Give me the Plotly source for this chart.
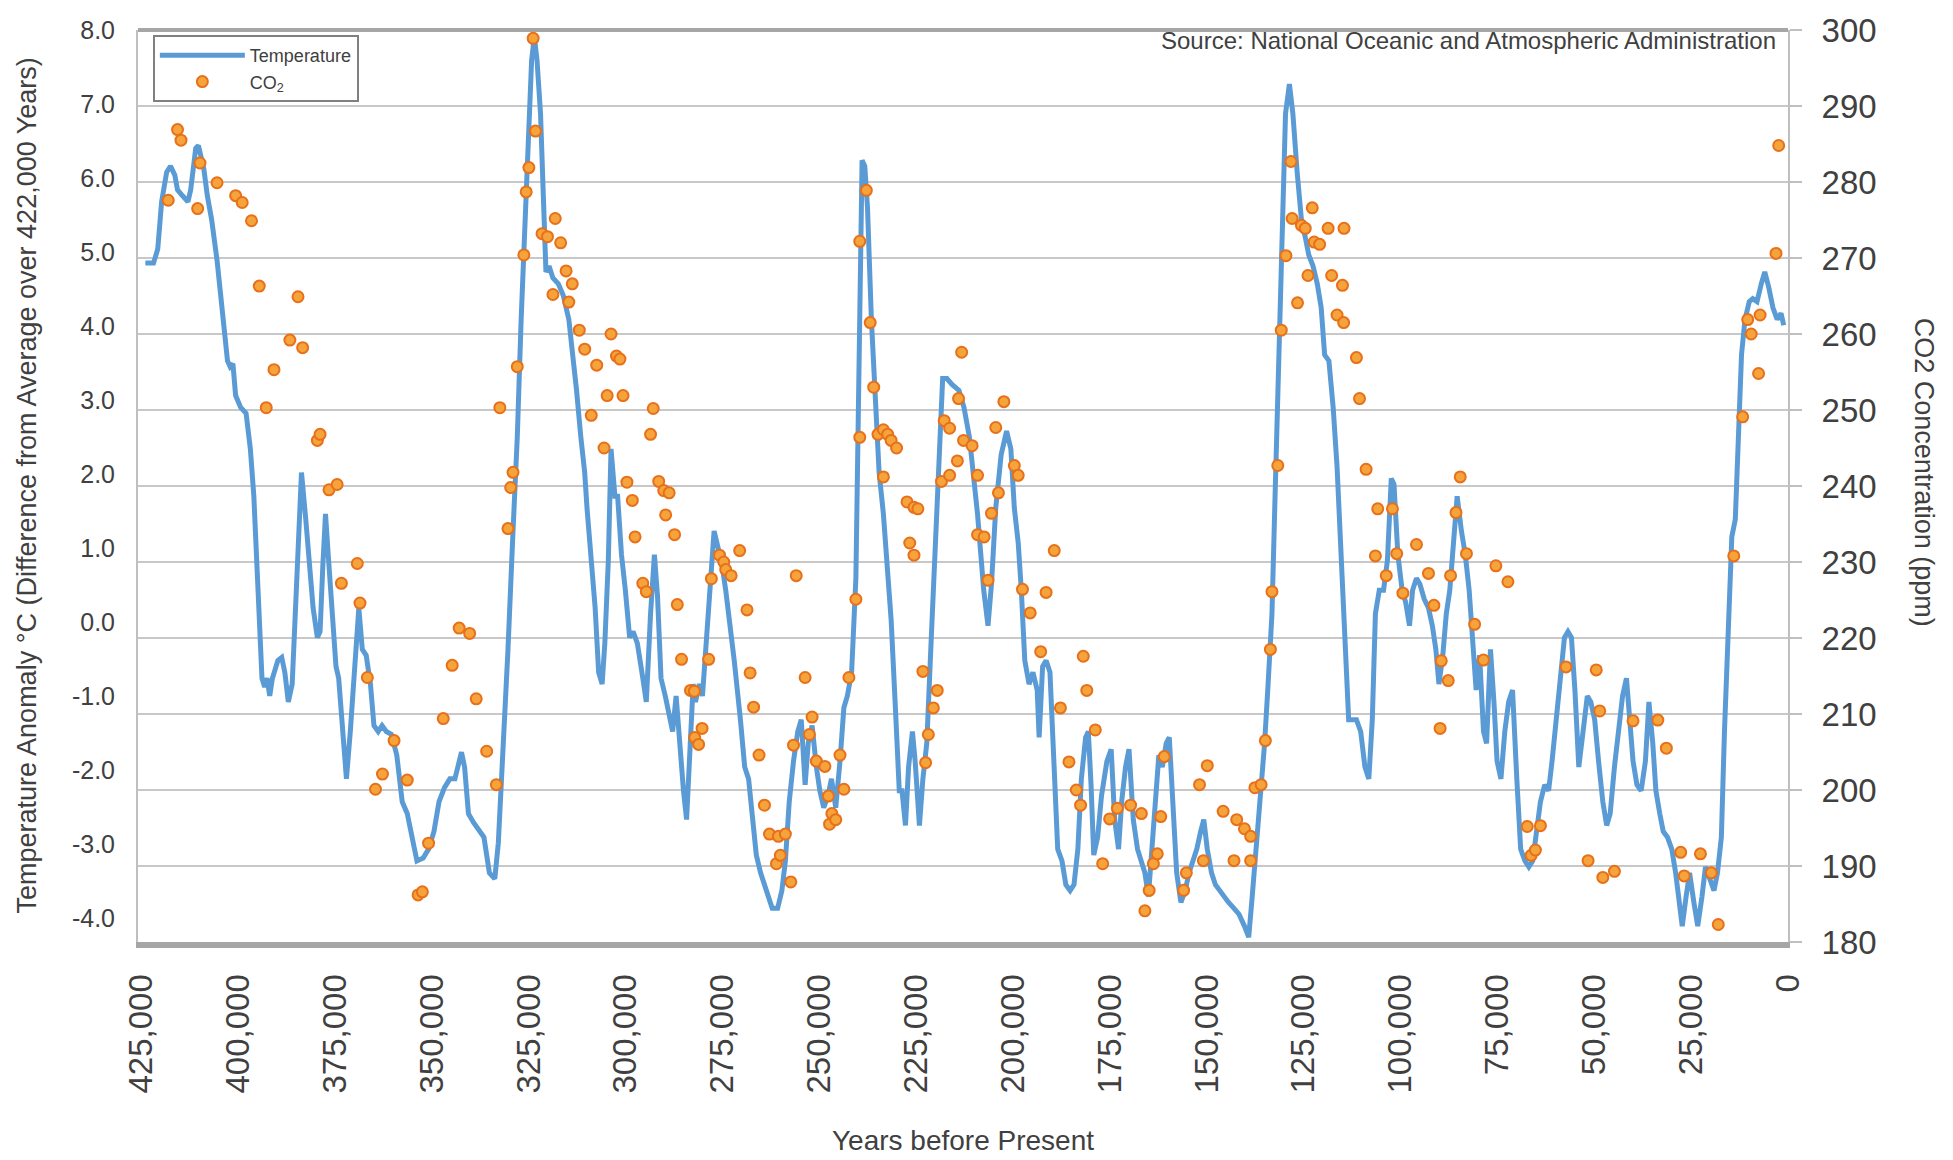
import plotly.graph_objects as go

# Temperature anomaly (°C) vs years before present
temperature_points = [
    (424000, 4.85), (421900, 4.85), (420800, 5.04), (419800, 5.68), (418500, 6.08), (417500, 6.16),
    (416400, 6.04), (415700, 5.84), (414400, 5.76), (413000, 5.68), (412300, 5.84), (411000, 6.40),
    (410300, 6.44), (409600, 6.28), (408900, 6.12), (408000, 5.76), (406900, 5.44), (405500, 4.89),
    (404100, 4.25), (402800, 3.53), (402100, 3.45), (401400, 3.49), (400700, 3.06), (399400, 2.90),
    (398000, 2.82), (396900, 2.34), (396000, 1.70), (395300, 0.91), (394600, 0.11), (393900, -0.76),
    (393200, -0.88), (392600, -0.76), (391900, -1.00), (391200, -0.76), (389800, -0.52), (388800, -0.48),
    (388000, -0.68), (387100, -1.08), (386100, -0.84), (385000, 0.51), (383700, 2.02), (382600, 1.39),
    (381600, 0.75), (380700, 0.19), (379600, -0.21), (378900, -0.13), (378200, 0.75), (377500, 1.46),
    (376800, 0.91), (375900, 0.19), (374800, -0.60), (374100, -0.76), (373000, -1.48), (372100, -2.12),
    (371100, -1.48), (370000, -0.68), (368900, 0.19), (368000, -0.37), (367000, -0.45), (365900, -0.84),
    (365000, -1.40), (363900, -1.48), (362900, -1.40), (361800, -1.48), (360500, -1.52), (359100, -1.80),
    (357700, -2.43), (356400, -2.59), (355000, -2.91), (353900, -3.23), (352300, -3.19), (350900, -3.07),
    (349500, -2.83), (348200, -2.43), (346800, -2.24), (345400, -2.12), (344100, -2.12), (343400, -1.96),
    (342400, -1.76), (341600, -1.96), (340600, -2.59), (339300, -2.71), (337900, -2.83), (336600, -2.91),
    (335200, -3.39), (333800, -3.47), (332900, -2.99), (331800, -1.88), (330400, -0.37), (329100, 1.23),
    (328000, 2.50), (327000, 4.09), (325700, 5.76), (325000, 6.87), (324300, 7.59), (323600, 7.91),
    (322900, 7.59), (322000, 6.87), (321100, 5.68), (320600, 4.73), (319800, 4.81), (318800, 4.65),
    (317400, 4.57), (316100, 4.41), (314700, 4.09), (313800, 3.69), (312700, 3.13), (311600, 2.50),
    (310600, 2.02), (310000, 1.54), (308900, 0.91), (307900, 0.19), (307000, -0.68), (306100, -0.84),
    (305400, -0.29), (304500, 0.83), (303800, 2.34), (302800, 1.70), (302100, 1.70), (301100, 0.91),
    (300100, 0.43), (299000, -0.21), (298100, -0.13), (297000, -0.29), (295600, -0.76), (294700, -1.08),
    (293600, 0.11), (292600, 0.91), (291800, 0.35), (290900, -0.76), (289800, -1.00), (288800, -1.24),
    (287900, -1.48), (287000, -1.00), (286100, -1.64), (285100, -2.28), (284300, -2.67), (283300, -1.48),
    (282600, -0.84), (282000, -1.08), (281000, -0.84), (280200, -1.00), (279200, -0.21), (278300, 0.59),
    (277200, 1.23), (276100, 0.99), (275100, 0.75), (274200, 0.43), (273400, 0.11), (272000, -0.52),
    (270400, -1.32), (269300, -1.96), (268300, -2.12), (267400, -2.67), (266300, -3.15), (265200, -3.39),
    (264200, -3.55), (263300, -3.71), (262200, -3.87), (260800, -3.87), (259700, -3.63), (258800, -3.23),
    (257800, -2.43), (256700, -1.88), (255600, -1.48), (254700, -1.32), (253700, -2.20), (252900, -1.64),
    (251900, -1.40), (250800, -1.96), (249900, -2.28), (248900, -2.51), (247800, -2.35), (246900, -2.12),
    (245800, -2.51), (244700, -1.88), (243700, -1.16), (242800, -1.00), (241700, -0.68), (240600, 0.59),
    (239600, 4.09), (239000, 6.24), (238300, 6.16), (237600, 5.60), (236600, 4.09), (235600, 2.90),
    (234600, 2.02), (233500, 1.46), (232400, 0.75), (231500, 0.03), (230400, -1.16), (229400, -2.28),
    (228700, -2.28), (227800, -2.75), (227000, -1.96), (226000, -1.48), (225300, -1.88), (224200, -2.75),
    (223300, -2.12), (222300, -1.64), (221200, -0.29), (220100, 1.07), (219200, 2.02), (218200, 3.29),
    (217100, 3.29), (215800, 3.21), (214000, 3.13), (212700, 2.90), (211300, 2.50), (210200, 2.02),
    (209200, 1.46), (208600, 1.07), (207600, 0.43), (206500, -0.05), (205600, 0.51), (204500, 1.54),
    (203100, 2.26), (201700, 2.58), (200600, 2.34), (199700, 1.54), (198700, 1.07), (197900, 0.43),
    (197000, -0.52), (195900, -0.84), (194900, -0.68), (193800, -0.92), (193300, -1.56), (192400, -0.60),
    (191500, -0.52), (190500, -0.68), (189400, -1.88), (188500, -3.07), (187400, -3.23), (186400, -3.55),
    (185300, -3.63), (184300, -3.55), (183300, -3.07), (182400, -2.12), (181300, -1.56), (180600, -1.48),
    (179900, -2.20), (179200, -3.15), (178200, -2.91), (177200, -2.35), (175800, -1.88), (174700, -1.72),
    (173800, -2.67), (172800, -3.07), (172000, -2.43), (171000, -1.96), (170100, -1.72), (169000, -2.67),
    (167900, -3.07), (166900, -3.23), (166000, -3.39), (165100, -3.71), (164200, -3.07), (163200, -2.28),
    (162400, -1.80), (161500, -1.96), (160500, -1.64), (159700, -1.56), (158700, -2.43), (157800, -3.39),
    (156700, -3.79), (155600, -3.63), (154600, -3.39), (153700, -3.23), (152600, -3.07), (151600, -2.83),
    (150800, -2.67), (149900, -3.07), (148800, -3.39), (147800, -3.55), (146700, -3.63), (145800, -3.71),
    (144400, -3.79), (143000, -3.87), (141700, -3.95), (140300, -4.11), (139200, -4.26), (138300, -3.71),
    (137300, -3.07), (136200, -2.28), (135100, -1.64), (134200, -0.84), (133200, 0.11), (132400, 1.70),
    (131400, 3.61), (130500, 5.44), (129700, 6.87), (128700, 7.27), (127800, 6.87), (126700, 6.08),
    (125600, 5.44), (124600, 5.20), (123700, 4.96), (122600, 4.81), (121500, 4.57), (120500, 4.25),
    (119600, 3.61), (118500, 3.53), (117400, 2.90), (116400, 2.10), (115500, 1.07), (114400, -0.29),
    (113400, -1.32), (112300, -1.32), (111400, -1.32), (110300, -1.48), (109200, -1.96), (108200, -2.12),
    (107300, -1.32), (106500, 0.11), (105500, 0.43), (104400, 0.43), (103400, 0.83), (102400, 1.94),
    (101700, 1.86), (100700, 0.91), (99600, 0.43), (98700, 0.27), (97700, -0.05), (96900, 0.43),
    (95900, 0.59), (95000, 0.51), (93900, 0.31), (92800, 0.19), (91800, -0.05), (90900, -0.37),
    (90100, -0.84), (89100, -0.45), (88200, 0.11), (87300, 0.43), (86400, 1.07), (85400, 1.70),
    (84300, 1.23), (83300, 0.91), (82300, 0.43), (81300, -0.29), (80500, -0.92), (79600, -0.45),
    (78600, -1.48), (77800, -1.64), (76800, -0.37), (75900, -1.08), (75100, -1.88), (74100, -2.12),
    (73100, -1.48), (72100, -1.08), (71100, -0.92), (70000, -2.12), (69000, -3.07), (67900, -3.23),
    (66900, -3.31), (65900, -3.23), (65000, -2.91), (63900, -2.43), (62800, -2.20), (61800, -2.28),
    (60900, -1.88), (59800, -1.32), (58700, -0.68), (57700, -0.21), (56800, -0.13), (55900, -0.21),
    (55000, -0.92), (54000, -1.96), (52900, -1.48), (51800, -1.00), (50900, -1.08), (49900, -1.32),
    (48900, -1.88), (47800, -2.43), (46800, -2.75), (45900, -2.59), (44800, -1.96), (43700, -1.48),
    (42700, -1.00), (41700, -0.76), (40900, -1.32), (40000, -1.88), (39000, -2.20), (37900, -2.28),
    (36800, -1.88), (35900, -1.08), (34900, -1.64), (34100, -2.28), (33100, -2.59), (32200, -2.83),
    (31100, -2.91), (30000, -3.07), (29000, -3.39), (28100, -3.79), (27300, -4.11), (26300, -3.71),
    (25400, -3.39), (24300, -3.79), (23300, -4.11), (22200, -3.71), (21300, -3.31), (20200, -3.47),
    (19100, -3.63), (18200, -3.39), (17200, -2.91), (16400, -1.48), (15400, 0.11), (14500, 1.15),
    (13600, 1.39), (12700, 2.50), (12000, 3.61), (11100, 4.09), (10000, 4.33), (9100, 4.37),
    (8000, 4.33), (6900, 4.57), (6000, 4.73), (5000, 4.53), (3900, 4.25), (2800, 4.09),
    (1800, 4.17), (1100, 4.01),
]

# CO2 concentration (ppm) vs years before present
co2_points = [
    (418100, 277.6), (415700, 286.9), (414800, 285.5), (410500, 276.5), (409900, 282.5), (405500, 279.9),
    (400700, 278.2), (399000, 277.3), (396600, 274.9), (394600, 266.3), (392800, 250.3), (390800, 255.3),
    (386700, 259.2), (384600, 264.9), (383400, 258.2), (379600, 246.0), (378900, 246.8), (376600, 239.5),
    (374500, 240.2), (373400, 227.2), (369300, 229.8), (368600, 224.6), (366700, 214.8), (364600, 200.1),
    (362800, 202.1), (359800, 206.5), (356400, 201.3), (353600, 186.2), (352500, 186.6), (350900, 193.0),
    (347100, 209.4), (344800, 216.4), (343000, 221.3), (340300, 220.6), (338600, 212.0), (335900, 205.1),
    (333400, 200.7), (332500, 250.3), (330400, 234.4), (329700, 239.8), (329100, 241.8), (328000, 255.7),
    (326300, 270.4), (325700, 278.7), (325000, 281.9), (323900, 298.9), (323300, 286.7), (321600, 273.2),
    (320200, 272.8), (318800, 265.2), (318200, 275.2), (316800, 272.0), (315400, 268.3), (314700, 264.2),
    (313800, 266.6), (312000, 260.5), (310600, 258.0), (308900, 249.3), (307500, 255.9), (305600, 245.0),
    (304800, 251.9), (303800, 260.0), (302400, 257.1), (301500, 256.7), (300700, 251.9), (299700, 240.5),
    (298300, 238.1), (297600, 233.3), (295600, 227.2), (294700, 226.1), (293600, 246.8), (292900, 250.2),
    (291500, 240.6), (290200, 239.4), (289700, 236.2), (288800, 239.1), (287400, 233.6), (286700, 224.4),
    (285600, 217.2), (283300, 213.1), (282300, 213.0), (282200, 206.9), (281200, 206.0), (280300, 208.1),
    (278600, 217.2), (277900, 227.8), (275800, 230.9), (274700, 230.0), (274200, 229.0), (272800, 228.2),
    (270600, 231.5), (268700, 223.7), (267900, 215.4), (267000, 210.9), (265600, 204.6), (264200, 198.0),
    (262900, 194.2), (261100, 190.3), (260600, 193.9), (260100, 191.4), (258800, 194.2), (257400, 187.9),
    (256700, 205.9), (256000, 228.2), (253700, 214.8), (252600, 207.3), (251900, 209.6), (250800, 203.8),
    (248600, 203.1), (247700, 199.2), (247400, 195.5), (246800, 196.9), (245800, 196.1), (244700, 204.6),
    (243700, 200.1), (242400, 214.8), (240600, 225.1), (239600, 246.4), (239600, 272.2), (237900, 278.9),
    (236900, 261.5), (236000, 253.0), (234900, 246.8), (233500, 247.4), (233500, 241.2), (232400, 246.8),
    (231500, 246.0), (230100, 245.0), (227400, 237.9), (226700, 232.5), (225600, 237.2), (225600, 230.9),
    (224600, 237.0), (223300, 215.6), (222600, 203.6), (221900, 207.3), (220600, 210.8), (219600, 213.1),
    (218500, 240.6), (217800, 248.6), (216400, 247.6), (216400, 241.4), (214400, 243.3), (214100, 251.5),
    (213300, 257.6), (212800, 246.0), (210600, 245.3), (209200, 241.4), (209200, 233.6), (207500, 233.3),
    (206500, 227.6), (205600, 236.4), (204500, 247.7), (203800, 239.1), (202400, 251.1), (199700, 242.7),
    (198700, 241.4), (197600, 226.4), (195600, 223.3), (192900, 218.2), (191500, 226.0), (189400, 231.5),
    (187800, 210.8), (185600, 203.7), (183700, 200.0), (182600, 198.0), (181900, 217.6), (181000, 213.1),
    (178800, 207.9), (176900, 190.3), (175100, 196.2), (173100, 197.6), (169700, 198.0), (166900, 196.9),
    (166000, 184.1), (164900, 186.8), (163800, 190.3), (162800, 191.6), (161900, 196.5), (161000, 204.4),
    (156000, 186.8), (155300, 189.1), (151900, 200.7), (150900, 190.7), (149900, 203.2), (145800, 197.2),
    (143000, 190.7), (142300, 196.1), (140300, 194.9), (138700, 193.9), (138700, 190.7), (137600, 200.3),
    (136000, 200.7), (134900, 206.5), (133600, 218.5), (133200, 226.1), (131700, 242.7), (130800, 260.5),
    (129600, 270.3), (128300, 282.7), (128000, 275.2), (126600, 264.1), (125600, 274.3), (124600, 273.9),
    (123900, 267.7), (122800, 276.6), (122300, 272.1), (120900, 271.8), (118700, 273.9), (117800, 267.7),
    (116400, 262.5), (115000, 266.4), (114700, 261.5), (114600, 273.9), (111400, 256.9), (110600, 251.5),
    (108900, 242.2), (106500, 230.8), (105900, 237.0), (103700, 228.2), (102100, 237.0), (101000, 231.1),
    (99400, 225.9), (95900, 232.3), (92800, 228.5), (91400, 224.3), (89800, 208.1), (89500, 217.0),
    (87700, 214.4), (87100, 228.2), (85700, 236.5), (84600, 241.2), (83000, 231.1), (80900, 221.8),
    (78600, 217.1), (75400, 229.5), (72300, 227.4), (67300, 195.2), (66300, 191.4), (65200, 192.1),
    (63900, 195.3), (57300, 216.2), (51600, 190.7), (49500, 215.8), (48600, 210.4), (47800, 188.5),
    (44800, 189.3), (40000, 209.1), (33600, 209.2), (31400, 205.5), (27700, 191.8), (26800, 188.7),
    (22600, 191.6), (19800, 189.1), (18000, 182.3), (14000, 230.8), (11700, 249.1), (10400, 261.9),
    (9500, 260.0), (7600, 254.8), (7200, 262.5), (3100, 270.6), (2400, 284.8),
]

x_tick_values = list(range(0, 425001, 25000))
temp_tick_values = [-4, -3, -2, -1, 0, 1, 2, 3, 4, 5, 6, 7, 8]
temp_tick_labels = ["-4.0", "-3.0", "-2.0", "-1.0", "0.0", "1.0", "2.0", "3.0", "4.0", "5.0", "6.0", "7.0", "8.0"]
co2_tick_values = list(range(180, 301, 10))

t_years = [p[0] for p in temperature_points]
t_vals = [p[1] for p in temperature_points]
c_years = [p[0] for p in co2_points]
c_vals = [p[1] for p in co2_points]

FONT = "Arial, 'Liberation Sans', sans-serif"
TXT = "#404040"

fig = go.Figure()
fig.add_trace(go.Scatter(
    x=t_years, y=t_vals, mode="lines", name="Temperature",
    line=dict(color="#5B9BD5", width=5), yaxis="y",
))
fig.add_trace(go.Scatter(
    x=c_years, y=c_vals, mode="markers", name="CO<sub>2</sub>",
    marker=dict(size=11, color="#F5A33B", line=dict(color="#E8701A", width=2)),
    yaxis="y2",
))

fig.update_layout(
    width=1953, height=1160,
    margin=dict(l=138, r=165, t=25, b=218, pad=0),
    paper_bgcolor="white", plot_bgcolor="white",
    font=dict(family=FONT, color=TXT),
    showlegend=True,
    legend=dict(
        x=0.009, y=0.9945, xanchor="left", yanchor="top",
        bgcolor="white", bordercolor="#808080", borderwidth=2,
        font=dict(size=18, color=TXT), itemwidth=85, tracegroupgap=0,
    ),
    xaxis=dict(
        range=[425900, 0], tickmode="array", tickvals=x_tick_values,
        tickformat=",d", tickangle=-90, tickfont=dict(size=33, color=TXT),
        showline=True, linecolor="#A6A6A6", linewidth=6,
        showgrid=False, zeroline=False, ticks="", ticklabelstandoff=13,
    ),
    yaxis=dict(
        range=[-4.325, 8.0005], tickmode="array", tickvals=temp_tick_values,
        ticktext=temp_tick_labels, tickfont=dict(size=25, color=TXT),
        showline=True, linecolor="#BFBFBF", linewidth=2,
        showgrid=False, zeroline=False, ticks="", ticklabelstandoff=16,
    ),
    yaxis2=dict(
        range=[180, 300], overlaying="y", side="right", tickmode="array",
        tickvals=co2_tick_values, tickfont=dict(size=33, color=TXT),
        showline=True, linecolor="#BFBFBF", linewidth=2,
        showgrid=True, gridcolor="#C8C8C8", gridwidth=2, zeroline=False,
        ticks="outside", ticklen=12, tickcolor="#BFBFBF", tickwidth=2,
        ticklabelstandoff=13,
    ),
    shapes=[
        dict(type="line", xref="paper", yref="paper", x0=0, x1=1, y0=1, y1=1,
             line=dict(color="#A6A6A6", width=4)),
    ],
    annotations=[
        dict(text="Temperature Anomaly °C (Difference from Average over 422,000 Years)",
             xref="paper", yref="paper", x=-0.0673, y=0.5005, textangle=-90,
             showarrow=False, font=dict(size=27, color=TXT), xanchor="center", yanchor="middle"),
        dict(text="CO2 Concentration (ppm)",
             xref="paper", yref="paper", x=1.0824, y=0.5147, textangle=90,
             showarrow=False, font=dict(size=27, color=TXT), xanchor="center", yanchor="middle"),
        dict(text="Years before Present",
             xref="paper", yref="paper", x=0.5, y=-0.218,
             showarrow=False, font=dict(size=28, color=TXT), xanchor="center", yanchor="middle"),
        dict(text="Source: National Oceanic and Atmospheric Administration",
             xref="paper", yref="paper", x=0.994, y=0.988,
             showarrow=False, font=dict(size=24, color=TXT), xanchor="right", yanchor="middle"),
    ],
)

fig.write_html("out.html")
